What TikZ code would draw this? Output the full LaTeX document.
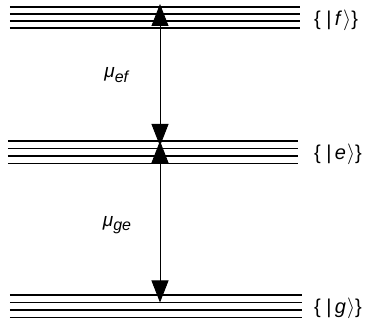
\documentclass[tikz,border=0pt]{standalone}
\usepackage{fontspec}
\setmainfont{Liberation Sans}
\usetikzlibrary{arrows.meta}

\begin{document}
\begin{tikzpicture}[x=1pt,y=-1pt,font=\fontsize{20}{24}\selectfont,
 lvl/.style={line width=1.1pt},
 tr/.style={line width=0.9pt,{Triangle[length=22pt,width=17pt]}-{Triangle[length=22pt,width=17pt]}},
 ket/.style={anchor=west,inner sep=0pt},
 mu/.style={inner sep=0pt}]
\useasboundingbox (0,0) rectangle (368,323);
% manifolds
\foreach \y in {7,14,21,28} \draw[lvl] (10,\y) -- (300,\y);
\foreach \y in {141,148.5,156,163.5} \draw[lvl] (8,\y) -- (298,\y);
\foreach \y in {295,302.5,310,317.5} \draw[lvl] (10,\y) -- (302,\y);
\node[ket] (f) at (314,20) {\{ |\,\textit{f}\kern1pt$\rangle$\}};
\node[ket] (e) at (314,154) {\{ |\,\textit{e}\kern1pt$\rangle$\}};
\node[ket] (g) at (314,308) {\{ |\,\textit{g}\kern1pt$\rangle$\}};
% transitions
\coordinate (ftop) at (160,4);
\coordinate (edown) at (160,146);
\coordinate (eup) at (160,141);
\coordinate (gdown) at (160,302.5);
\draw[tr] (edown) -- (ftop);
\draw[tr] (gdown) -- (eup);
\node[mu] (muef) at (117,75) {\fontsize{19}{22}\selectfont\textit{μ}\raisebox{-0.45ex}{\fontsize{16}{18}\selectfont\textit{ef}}};
\node[mu] (muge) at (117,225) {\fontsize{19}{22}\selectfont\textit{μ}\raisebox{-0.45ex}{\fontsize{16}{18}\selectfont\textit{ge}}};
\end{tikzpicture}
\end{document}
